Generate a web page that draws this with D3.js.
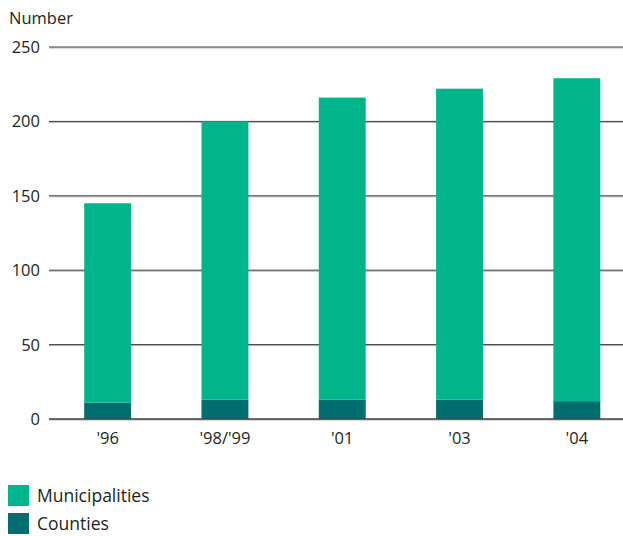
<!DOCTYPE html>
<html>
<head>
<meta charset="utf-8">
<script src="https://cdn.jsdelivr.net/npm/d3@7"></script>
<style>
  body { margin: 0; background: #fff; }
  text { font-family: "Open Sans", "DejaVu Sans", sans-serif; fill: #231f20; }
</style>
</head>
<body>
<div id="chart"></div>
<script>
// Chart data
const years = ["'96", "'98/'99", "'01", "'03", "'04"];
const counties = [11, 13, 13, 13, 12];
const municipalities = [134, 187, 203, 209, 217];
const yTicks = [0, 50, 100, 150, 200, 250];
const seriesNames = ["Municipalities", "Counties"];
const seriesColors = ["#00b48c", "#006e6e"];

function create_stacked_chart(width, height) {
    const svg = d3.select("#chart").append("svg")
        .attr("width", width)
        .attr("height", height);

    // Scales
    const x = d3.scaleBand()
        .domain(years)
        .range([49, 635.5])
        .paddingInner(0.6)
        .paddingOuter(0.3);

    const y = d3.scaleLinear()
        .domain([0, 250])
        .range([419, 47]);

    // Gridlines (dark line with a light shadow beneath)
    const grid = svg.append("g");
    grid.selectAll(".shadow")
        .data(yTicks)
        .enter().append("line")
        .attr("x1", 49).attr("x2", width)
        .attr("y1", d => y(d) + 1).attr("y2", d => y(d) + 1)
        .attr("stroke", "#b4b4b4").attr("stroke-width", 1);
    grid.selectAll(".line")
        .data(yTicks)
        .enter().append("line")
        .attr("x1", 49).attr("x2", width)
        .attr("y1", d => y(d)).attr("y2", d => y(d))
        .attr("stroke", "#3c3c3c").attr("stroke-width", 1);

    // Stacked bars
    const rows = years.map((yr, i) => ({ year: yr, Counties: counties[i], Municipalities: municipalities[i] }));
    const stack = d3.stack().keys(["Counties", "Municipalities"])(rows);
    const color = d3.scaleOrdinal().domain(seriesNames).range(seriesColors);

    svg.append("g").selectAll("g")
        .data(stack)
        .enter().append("g")
        .attr("fill", d => color(d.key))
        .selectAll("rect")
        .data(d => d)
        .enter().append("rect")
        .attr("x", d => x(d.data.year))
        .attr("y", d => y(d[1]))
        .attr("width", x.bandwidth())
        .attr("height", d => y(d[0]) - y(d[1]));

    // Redraw baseline over bars
    svg.append("line")
        .attr("x1", 49).attr("x2", width)
        .attr("y1", y(0)).attr("y2", y(0))
        .attr("stroke", "#3c3c3c");

    // Y tick labels
    svg.append("g").selectAll("text")
        .data(yTicks)
        .enter().append("text")
        .attr("x", 40)
        .attr("y", d => y(d))
        .attr("dy", "0.36em")
        .attr("text-anchor", "end")
        .style("font-size", "16.5px")
        .text(d => d);

    // X labels
    svg.append("g").selectAll("text")
        .data(years)
        .enter().append("text")
        .attr("x", d => x(d) + x.bandwidth() / 2)
        .attr("y", 444)
        .attr("text-anchor", "middle")
        .style("font-size", "16.5px")
        .text(d => d);

    // Axis title
    svg.append("text")
        .attr("x", 9)
        .attr("y", 24)
        .style("font-size", "16.5px")
        .text("Number");

    // Legend
    const legend = svg.append("g").selectAll("g")
        .data(seriesNames)
        .enter().append("g")
        .attr("transform", (d, i) => "translate(8," + (485 + i * 28) + ")");
    legend.append("rect")
        .attr("width", 21).attr("height", 21)
        .attr("fill", d => color(d));
    legend.append("text")
        .attr("x", 29)
        .attr("y", 10.5)
        .attr("dy", "0.36em")
        .style("font-size", "17.5px")
        .text(d => d);
}

create_stacked_chart(623, 536);
</script>
</body>
</html>
